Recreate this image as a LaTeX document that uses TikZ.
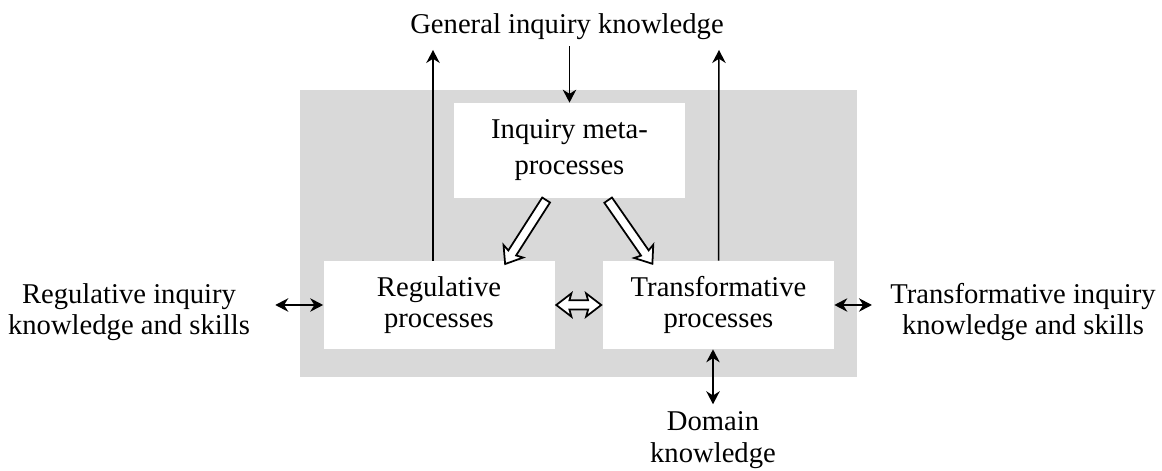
\documentclass[tikz,border=0pt]{standalone}
\usepackage{fontspec}
\setmainfont{Liberation Serif}
\usetikzlibrary{arrows.meta,shapes.arrows,calc}
\definecolor{panelgrey}{HTML}{D9D9D9}
\tikzset{
  labeltext/.style={align=center, inner sep=0pt, font=\fontsize{16.3pt}{18pt}\selectfont},
  procbox/.style={fill=white, align=center, inner sep=0pt, minimum width=4.62cm, minimum height=1.76cm, font=\fontsize{16.3pt}{18pt}\selectfont},
  linkarrow/.style={line width=0.03cm, {Stealth[length=0.26cm,width=0.27cm]}-{Stealth[length=0.26cm,width=0.27cm]}},
  flowarrow/.style={line width=0.03cm, -{Stealth[length=0.26cm,width=0.27cm]}},
  hollowarrow/.style={single arrow, draw, fill=white, line width=0.035cm, inner sep=0.075cm, minimum width=0.44cm,
    single arrow head extend=0.14cm, single arrow tip angle=75, single arrow head indent=0.04cm,
    sloped, allow upside down, midway},
  hollowboth/.style={double arrow, draw, fill=white, line width=0.035cm, inner sep=0.075cm, minimum width=0.44cm,
    double arrow head extend=0.14cm, double arrow tip angle=75, double arrow head indent=0.04cm}
}
\begin{document}
\begin{tikzpicture}
            \useasboundingbox (0.000000,0.000000) rectangle (23.240000,9.420000);%

            % Drawing grey panel
            \fill [panelgrey] (6.000000,1.880000) rectangle (17.140000,7.620000);%

            % Marking the three process boxes
            \node [procbox, minimum height=1.90cm, font=\fontsize{16.3pt}{20.5pt}\selectfont] (meta) at (11.390000,6.410000) {Inquiry meta-\\processes};%
            \node [procbox] (reg) at (8.780000,3.320000) {Regulative\\processes};%
            \node [procbox] (trans) at (14.370000,3.320000) {Transformative\\processes};%

            % Marking outer knowledge labels
            \node [labeltext] (gen) at (11.340000,8.880000) {General inquiry knowledge};%
            \node [labeltext] (regknow) at (2.580000,3.180000) {Regulative inquiry\\knowledge and skills};%
            \node [labeltext] (transknow) at (20.460000,3.180000) {Transformative inquiry\\knowledge and skills};%
            \node [labeltext] (dom) at (14.260000,0.620000) {Domain\\knowledge};%

            % Free ends of the upward arrows
            \coordinate (regtop) at (8.660000,8.420000);%
            \coordinate (transtop) at (14.380000,8.420000);%

            % Drawing thin arrows
            \draw [flowarrow] (meta.north |- gen.south) [shorten <=0.12cm] -- (meta.north);%
            \draw [flowarrow] (regtop |- reg.north) -- (regtop);%
            \draw [flowarrow] (trans.north) -- (transtop);%
            \draw [linkarrow, shorten <=0.5cm] (reg.west -| regknow.east) -- (reg.west);%
            \draw [linkarrow, shorten >=0.36cm] (trans.east) -- (trans.east -| transknow.west);%
            \draw [linkarrow, shorten >=0.14cm] (dom.north -| trans.south) ++(-0.11,0) coordinate (domtop) (trans.south -| domtop) -- (domtop);%

            % Drawing hollow arrows
            \path (meta.245) -- (reg.33) node [hollowarrow, minimum height=1.52cm] (metatoreg) {};%
            \path (meta.308) -- (trans.147) node [hollowarrow, minimum height=1.55cm] (metatotrans) {};%
            \node [hollowboth, minimum height=0.90cm] (regtrans) at ($(reg.east)!0.5!(trans.west)$) {};%
\end{tikzpicture}
\end{document}
